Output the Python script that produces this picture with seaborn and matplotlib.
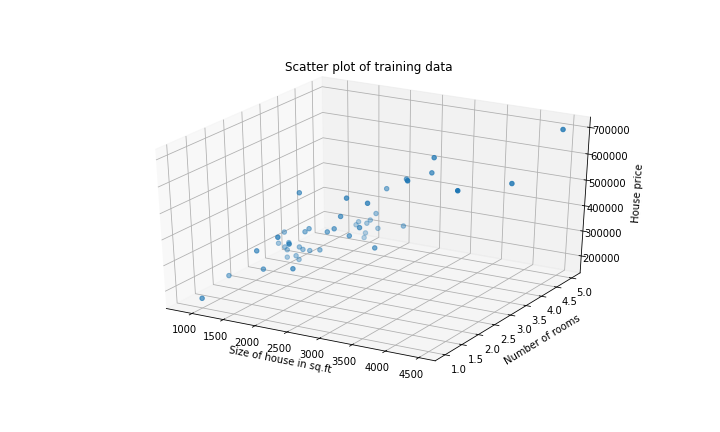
import numpy as np
import pandas as pd
import matplotlib
matplotlib.use("Agg")
import matplotlib.pyplot as plt
import seaborn as sns

# training data: size (sq.ft), number of rooms, price
size = [2104, 1600, 2400, 1416, 3000, 1985, 1534, 1427, 1380, 1494, 1940, 2000,
        1890, 4478, 1268, 2300, 1320, 1236, 2609, 3031, 1767, 1888, 1604, 1962,
        3890, 1100, 1458, 2526, 2200, 2637, 1839, 1000, 2040, 3137, 1811, 1437,
        1239, 2132, 4215, 2162, 1664, 2238, 2567, 1200, 852, 1852, 1203]
rooms = [3, 3, 3, 2, 4, 4, 3, 3, 3, 3, 4, 3, 3, 5, 3, 4, 2, 3, 4, 4, 3, 2, 3, 4,
         3, 3, 3, 3, 3, 3, 2, 1, 4, 3, 4, 3, 3, 4, 4, 4, 2, 3, 4, 3, 2, 4, 3]
price = [399900, 329900, 369000, 232000, 539900, 299900, 314900, 198999, 212000,
         242500, 239999, 347000, 329999, 699900, 259900, 449900, 299900, 199900,
         499998, 599000, 252900, 255000, 242900, 259900, 573900, 249900, 464500,
         469000, 475000, 299900, 349900, 169900, 314900, 579900, 285900, 249900,
         229900, 345000, 549000, 287000, 368500, 329900, 314000, 299000, 179900,
         299900, 239500]

df = pd.DataFrame({"size": size, "rooms": rooms, "price": price})
color = sns.color_palette()[0]

fig = plt.figure(figsize=(10, 6), dpi=72)
ax = fig.add_subplot(111, projection="3d")


# old-style 3d axes: let the box stretch over the whole subplot area
def _stretch(position=None):
    ax._set_position(ax.get_position(original=True), "active")


ax.apply_aspect = _stretch
ax.set_box_aspect((3.42, 3.43, 3.36), zoom=0.93)

ax.scatter(df["size"], df["rooms"], df["price"], color=color, s=20)
ax.set_xlabel("Size of house in sq.ft")
ax.set_ylabel("Number of rooms", labelpad=7)
ax.set_zlabel("House price", labelpad=9)
ax.set_title("Scatter plot of training data", y=1.005)
ax.set_xticks(np.arange(1000, 4501, 500))
ax.set_yticks(np.arange(1.0, 5.01, 0.5))
ax.set_yticklabels([f"{v:.1f}" for v in np.arange(1.0, 5.01, 0.5)])
ax.set_zticks(np.arange(200000, 700001, 100000))
ax.set_zticklabels([str(v) for v in range(200000, 700001, 100000)])

fig.savefig("out.png", dpi=72)
